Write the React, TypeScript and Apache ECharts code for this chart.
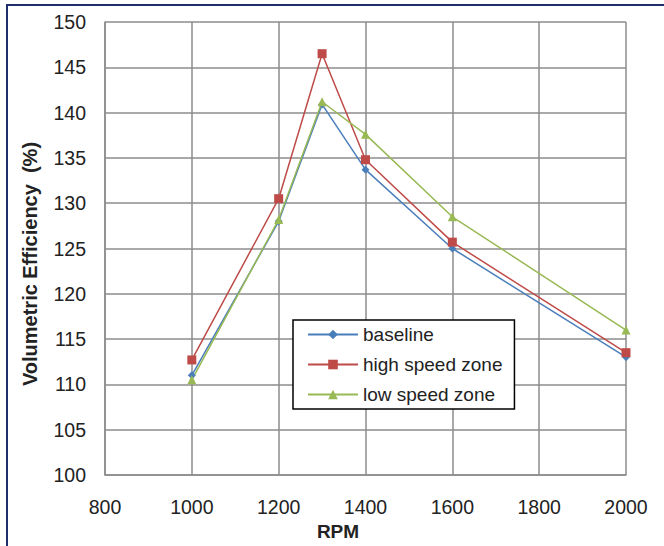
import React, { useEffect, useRef } from "react";
import * as echarts from "echarts";

const rpm = [1000, 1200, 1300, 1400, 1600, 2000];
const baseline = [111.0, 128.0, 140.9, 133.7, 125.0, 113.0];
const highSpeed = [112.7, 130.5, 146.5, 134.8, 125.7, 113.5];
const lowSpeed = [110.5, 128.2, 141.2, 137.6, 128.5, 116.0];
const seriesNames = ["baseline", "high speed zone", "low speed zone"];

const FONT = "Liberation Sans";

function pairs(ys: number[]) {
  return rpm.map((x, i) => [x, ys[i]]);
}

export default function App() {
  const ref = useRef<HTMLDivElement>(null);
  useEffect(() => {
    if (!ref.current) return;
    const chart = echarts.init(ref.current, undefined, { renderer: "svg" });
    const grid = "#8c8c8c";
    const mk = (name: string, data: number[], color: string, symbol: string, size: number) => ({
      name,
      type: "line",
      data: pairs(data),
      symbol,
      symbolSize: size,
      itemStyle: { color },
      lineStyle: { color, width: 1.5 },
    });
    chart.setOption({
      animation: false,
      backgroundColor: "#ffffff",
      grid: { left: 105, right: 38, top: 22, bottom: 71 },
      xAxis: {
        type: "value",
        min: 800,
        max: 2000,
        interval: 200,
        name: "RPM",
        nameLocation: "middle",
        nameGap: 45,
        nameTextStyle: { fontFamily: FONT, fontWeight: "bold", fontSize: 19, color: "#222", padding: [0, 55, 0, 0] },
        axisLine: { show: true, lineStyle: { color: grid, width: 1.5 } },
        axisTick: { show: false },
        axisLabel: { fontFamily: FONT, fontSize: 19.5, color: "#222", margin: 22, formatter: (v: number) => String(v) },
        splitLine: { show: true, lineStyle: { color: grid, width: 1.5 } },
      },
      yAxis: {
        type: "value",
        min: 100,
        max: 150,
        interval: 5,
        axisLine: { show: true, lineStyle: { color: grid, width: 1.5 } },
        axisTick: { show: false },
        axisLabel: { fontFamily: FONT, fontSize: 19.5, color: "#222", margin: 19 },
        splitLine: { show: true, lineStyle: { color: grid, width: 1.5 } },
      },
      legend: {
        left: 293,
        top: 320,
        orient: "vertical",
        data: seriesNames,
        backgroundColor: "#ffffff",
        borderColor: "#000000",
        borderWidth: 1.5,
        borderRadius: 0,
        padding: [5, 12, 5, 14],
        itemWidth: 50,
        itemHeight: 12,
        itemGap: 11,
        textStyle: { fontFamily: FONT, fontSize: 19, color: "#222" },
      },
      graphic: [
        { type: "line", shape: { x1: 7, y1: 5, x2: 7, y2: 546 }, style: { stroke: "#1f2f6b", lineWidth: 2 } },
        { type: "line", shape: { x1: 6, y1: 5, x2: 664, y2: 5 }, style: { stroke: "#1f2f6b", lineWidth: 2 } },
        {
          type: "text",
          x: 30,
          y: 264,
          rotation: Math.PI / 2,
          style: {
            text: "Volumetric Efficiency  (%)",
            fontFamily: FONT,
            fontWeight: "bold",
            fontSize: 20,
            fill: "#222",
            align: "center",
            verticalAlign: "middle",
          },
        },
      ],
      series: [
        mk(seriesNames[0], baseline, "#4a7ebb", "diamond", 8),
        mk(seriesNames[1], highSpeed, "#be4b48", "rect", 9),
        mk(seriesNames[2], lowSpeed, "#98b954", "triangle", 9),
      ],
    });
    return () => chart.dispose();
  }, []);
  return <div ref={ref} style={{ width: 664, height: 546, position: "absolute", left: 0, top: 0 }} />;
}
